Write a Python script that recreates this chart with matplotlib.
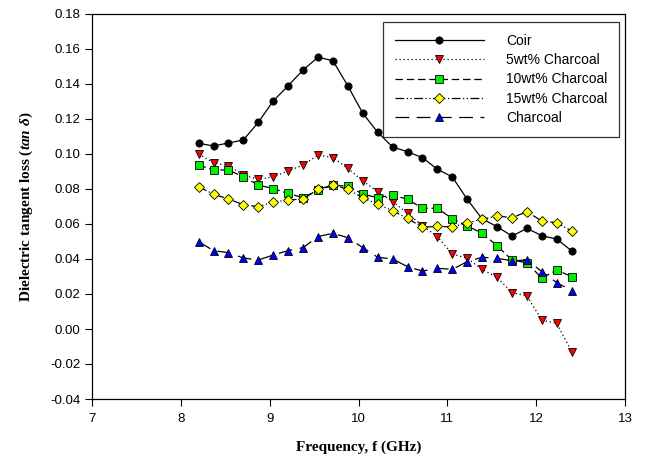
import matplotlib
matplotlib.use('Agg')
import matplotlib.pyplot as plt

# Frequency points (GHz), X-band
freq = [8.200, 8.368, 8.536, 8.704, 8.872, 9.040, 9.208, 9.376, 9.544, 9.712,
        9.880, 10.048, 10.216, 10.384, 10.552, 10.720, 10.888, 11.056, 11.224,
        11.392, 11.560, 11.728, 11.896, 12.064, 12.232, 12.400]

coir = [0.1061, 0.1046, 0.1063, 0.1080, 0.1181, 0.1303, 0.1390, 0.1480, 0.1553,
        0.1533, 0.1389, 0.1233, 0.1124, 0.1040, 0.1013, 0.0979, 0.0913, 0.0869,
        0.0741, 0.0629, 0.0585, 0.0531, 0.0575, 0.0533, 0.0514, 0.0446]

wt5 = [0.1000, 0.0950, 0.0933, 0.0880, 0.0855, 0.0870, 0.0903, 0.0937, 0.0994,
       0.0979, 0.0918, 0.0846, 0.0785, 0.0728, 0.0661, 0.0590, 0.0528, 0.0429,
       0.0404, 0.0341, 0.0295, 0.0208, 0.0189, 0.0051, 0.0032, -0.0130]

wt10 = [0.0937, 0.0909, 0.0909, 0.0869, 0.0823, 0.0802, 0.0775, 0.0750, 0.0794,
        0.0820, 0.0817, 0.0771, 0.0750, 0.0766, 0.0741, 0.0690, 0.0690, 0.0630,
        0.0589, 0.0547, 0.0476, 0.0394, 0.0379, 0.0290, 0.0337, 0.0299]

wt15 = [0.0813, 0.0770, 0.0743, 0.0710, 0.0699, 0.0726, 0.0737, 0.0743, 0.0798,
        0.0823, 0.0798, 0.0750, 0.0712, 0.0676, 0.0632, 0.0581, 0.0587, 0.0583,
        0.0607, 0.0627, 0.0646, 0.0636, 0.0670, 0.0617, 0.0607, 0.0560]

charcoal = [0.0499, 0.0448, 0.0436, 0.0406, 0.0394, 0.0423, 0.0448, 0.0465, 0.0528,
            0.0547, 0.0522, 0.0465, 0.0410, 0.0400, 0.0356, 0.0331, 0.0347, 0.0341,
            0.0385, 0.0410, 0.0404, 0.0390, 0.0394, 0.0328, 0.0265, 0.0219]

labels = ['Coir', '5wt% Charcoal', '10wt% Charcoal', '15wt% Charcoal', 'Charcoal']
yticks = [-0.04, -0.02, 0.00, 0.02, 0.04, 0.06, 0.08, 0.10, 0.12, 0.14, 0.16, 0.18]
xticks = [7, 8, 9, 10, 11, 12, 13]

plt.rcParams['font.family'] = ['Liberation Sans', 'DejaVu Sans']
plt.rcParams['mathtext.fontset'] = 'custom'
plt.rcParams['mathtext.it'] = 'Liberation Serif:italic:bold'
plt.rcParams['mathtext.rm'] = 'Liberation Serif:bold'

fig = plt.figure(figsize=(6.48, 4.63), dpi=100)
ax = fig.add_axes([92 / 648, 1 - 399 / 463, 533 / 648, 385 / 463])

lw = 0.9
ax.plot(freq, coir, color='black', lw=lw, linestyle='-', marker='o', ms=5.2,
        mfc='black', mec='black', mew=0.6, label=labels[0])
ax.plot(freq, wt5, color='black', lw=lw, linestyle=(0, (1, 2.2)), marker='v', ms=6,
        mfc='#ff0000', mec='black', mew=0.6, label=labels[1])
ax.plot(freq, wt10, color='black', lw=lw, linestyle=(0, (6, 3)), marker='s', ms=5.2,
        mfc='#00ee00', mec='black', mew=0.6, label=labels[2])
ax.plot(freq, wt15, color='black', lw=lw, linestyle=(0, (7, 2, 1, 2, 1, 2)), marker='D', ms=5.2,
        mfc='#ffff00', mec='black', mew=0.6, label=labels[3])
ax.plot(freq, charcoal, color='black', lw=lw, linestyle=(0, (11, 6)), marker='^', ms=6,
        mfc='#0000ff', mec='black', mew=0.6, label=labels[4])

ax.set_xlim(7, 13)
ax.set_ylim(-0.04, 0.18)
ax.set_xticks(xticks)
ax.set_yticks(yticks)
ax.set_yticklabels([f'{t:.2f}' for t in yticks])
ax.tick_params(axis='both', direction='out', length=5, width=0.8, labelsize=9.5,
               top=False, right=False)
ax.tick_params(axis='x', pad=5)
for s in ax.spines.values():
    s.set_linewidth(0.9)

ax.set_xlabel('Frequency, f (GHz)', fontsize=11, fontweight='bold',
              family='Liberation Serif', labelpad=11)
ax.set_ylabel('Dielectric tangent loss ($tan\\ \\delta$)', fontsize=11, fontweight='bold',
              family='Liberation Serif', labelpad=11)

leg = ax.legend(loc='upper right', bbox_to_anchor=(0.989, 0.979), fontsize=10,
                frameon=True, fancybox=False, edgecolor='black', handlelength=6.4,
                handletextpad=1.6, labelspacing=0.38, borderpad=0.85, borderaxespad=0)
leg.get_frame().set_linewidth(0.9)

plt.savefig('out.png', dpi=100)
